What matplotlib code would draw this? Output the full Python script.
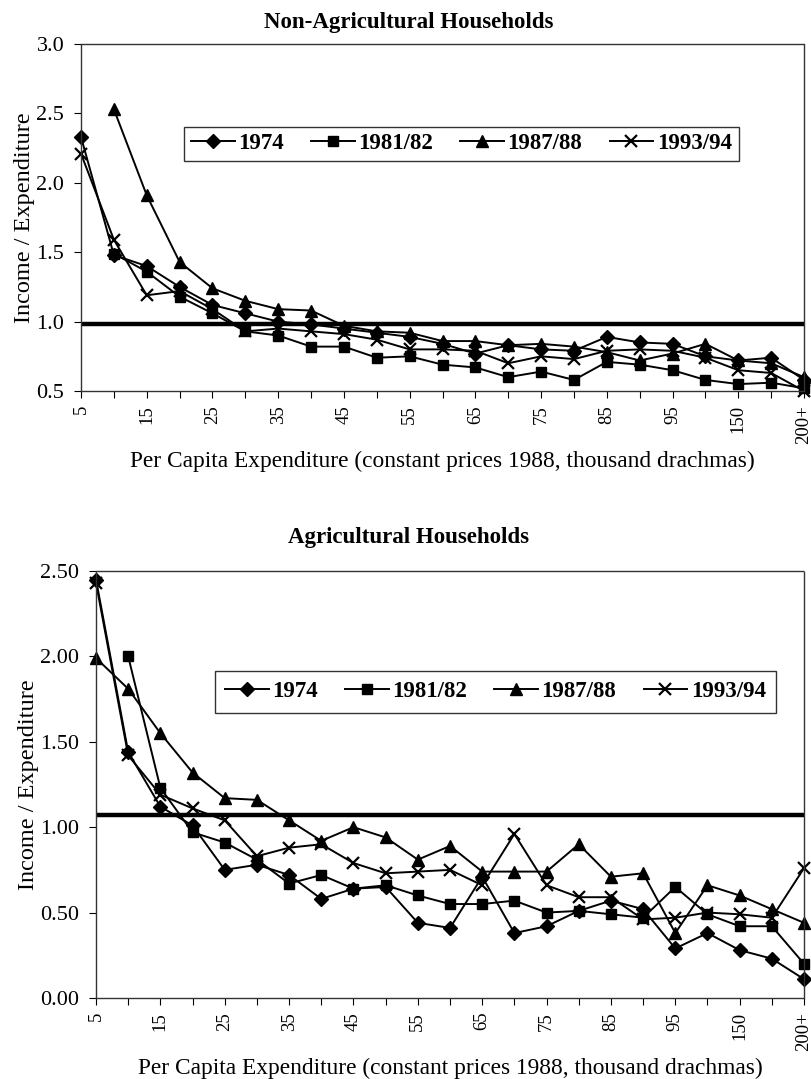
import numpy as np
import matplotlib
matplotlib.use("Agg")
import matplotlib.pyplot as plt

plt.rcParams['font.family'] = ['Liberation Serif', 'DejaVu Serif']

# expenditure classes (thousand drachmas); only every other one is labelled
classes = ['5', '10', '15', '20', '25', '30', '35', '40', '45', '50', '55', '60',
           '65', '70', '75', '80', '85', '90', '95', '100', '150', '200', '200+']
series_names = ['1974', '1981/82', '1987/88', '1993/94']

# Non-agricultural households: income / expenditure
nonag_1974 = [2.33, 1.48, 1.40, 1.25, 1.12, 1.06, 1.00, 0.98, 0.95, 0.92, 0.89, 0.84,
              0.77, 0.83, 0.80, 0.79, 0.89, 0.85, 0.84, 0.75, 0.72, 0.74, 0.58]
nonag_1981 = [np.nan, 1.49, 1.36, 1.18, 1.06, 0.93, 0.90, 0.82, 0.82, 0.74, 0.75, 0.69,
              0.67, 0.60, 0.64, 0.58, 0.71, 0.69, 0.65, 0.58, 0.55, 0.56, 0.52]
nonag_1987 = [np.nan, 2.53, 1.91, 1.43, 1.24, 1.15, 1.09, 1.08, 0.97, 0.93, 0.92, 0.86,
              0.86, 0.83, 0.84, 0.82, 0.78, 0.72, 0.77, 0.84, 0.72, 0.70, 0.60]
nonag_1993 = [2.21, 1.59, 1.19, 1.22, 1.09, 0.93, 0.95, 0.93, 0.91, 0.87, 0.80, 0.80,
              0.79, 0.70, 0.75, 0.73, 0.79, 0.80, 0.79, 0.74, 0.65, 0.63, 0.50]
nonag_ref = 0.98

# Agricultural households: income / expenditure
ag_1974 = [2.45, 1.44, 1.12, 1.01, 0.75, 0.78, 0.72, 0.58, 0.64, 0.65, 0.44, 0.41,
           0.71, 0.38, 0.42, 0.51, 0.57, 0.52, 0.29, 0.38, 0.28, 0.23, 0.11]
ag_1981 = [np.nan, 2.00, 1.23, 0.97, 0.91, 0.81, 0.67, 0.72, 0.64, 0.66, 0.60, 0.55,
           0.55, 0.57, 0.50, 0.51, 0.49, 0.47, 0.65, 0.49, 0.42, 0.42, 0.20]
ag_1987 = [1.99, 1.81, 1.55, 1.32, 1.17, 1.16, 1.04, 0.92, 1.00, 0.94, 0.81, 0.89,
           0.74, 0.74, 0.74, 0.90, 0.71, 0.73, 0.38, 0.66, 0.60, 0.52, 0.44]
ag_1993 = [2.43, 1.42, 1.19, 1.11, 1.04, 0.83, 0.88, 0.90, 0.79, 0.73, 0.74, 0.75,
           0.66, 0.96, 0.66, 0.59, 0.59, 0.46, 0.47, 0.50, 0.49, 0.47, 0.76]
ag_ref = 1.07

markers = ['D', 's', '^', 'x']
marker_sizes = [7, 7.5, 8.5, 8.5]

fig = plt.figure(figsize=(8.11, 10.79), dpi=100)
ax1 = fig.add_axes([0.0999, 0.6376, 0.8915, 0.3216])
ax2 = fig.add_axes([0.1184, 0.0751, 0.8730, 0.3957])

x = np.arange(len(classes))


def draw_panel(ax, data, ref, ylim, yticks, yfmt, legend_anchor, borderpad):
    for vals, name, m, ms in zip(data, series_names, markers, marker_sizes):
        ax.plot(x, vals, color='black', linewidth=1.4, marker=m, markersize=ms,
                markeredgewidth=1.6 if m == 'x' else 1.0, label=name, clip_on=False)
    ax.axhline(ref, color='black', linewidth=3.2)
    ax.set_xlim(0, len(classes) - 1)
    ax.set_ylim(*ylim)
    ax.set_yticks(yticks)
    ax.set_yticklabels([yfmt.format(v) for v in yticks])
    ax.set_xticks(x)
    ax.set_xticklabels([c if i % 2 == 0 else '' for i, c in enumerate(classes)],
                       rotation=90, fontsize=13.5)
    ax.tick_params(axis='y', labelsize=16, length=5, pad=7)
    ax.tick_params(axis='x', length=5, pad=5)
    for s in ax.spines.values():
        s.set_linestyle((0, (1, 1)))
        s.set_linewidth(1.0)
        s.set_color('#333333')
    ax.set_ylabel('Income / Expenditure', fontsize=17.5, labelpad=1)
    ax.set_xlabel('Per Capita Expenditure (constant prices 1988, thousand drachmas)',
                  fontsize=16.8, labelpad=5)
    leg = ax.legend(loc='center', bbox_to_anchor=legend_anchor, ncol=4, frameon=True,
                    fancybox=False, edgecolor='black', handlelength=1.9,
                    handletextpad=0.15, columnspacing=1.2, borderpad=borderpad,
                    borderaxespad=0, prop={'weight': 'bold', 'size': 16.5})
    leg.get_frame().set_linewidth(1.0)


draw_panel(ax1, [nonag_1974, nonag_1981, nonag_1987, nonag_1993], nonag_ref,
           (0.5, 3.0), [0.5, 1.0, 1.5, 2.0, 2.5, 3.0], '{:.1f}', (0.526, 0.712), 0.3)
draw_panel(ax2, [ag_1974, ag_1981, ag_1987, ag_1993], ag_ref,
           (0.0, 2.5), [0.0, 0.5, 1.0, 1.5, 2.0, 2.5], '{:.2f}', (0.564, 0.717), 0.45)

fig.text(0.504, 0.9787, 'Non-Agricultural Households', ha='center', va='center',
         fontsize=16.5, fontweight='bold')
fig.text(0.504, 0.5014, 'Agricultural Households', ha='center', va='center',
         fontsize=16.5, fontweight='bold')

fig.savefig('out.png', dpi=100)
